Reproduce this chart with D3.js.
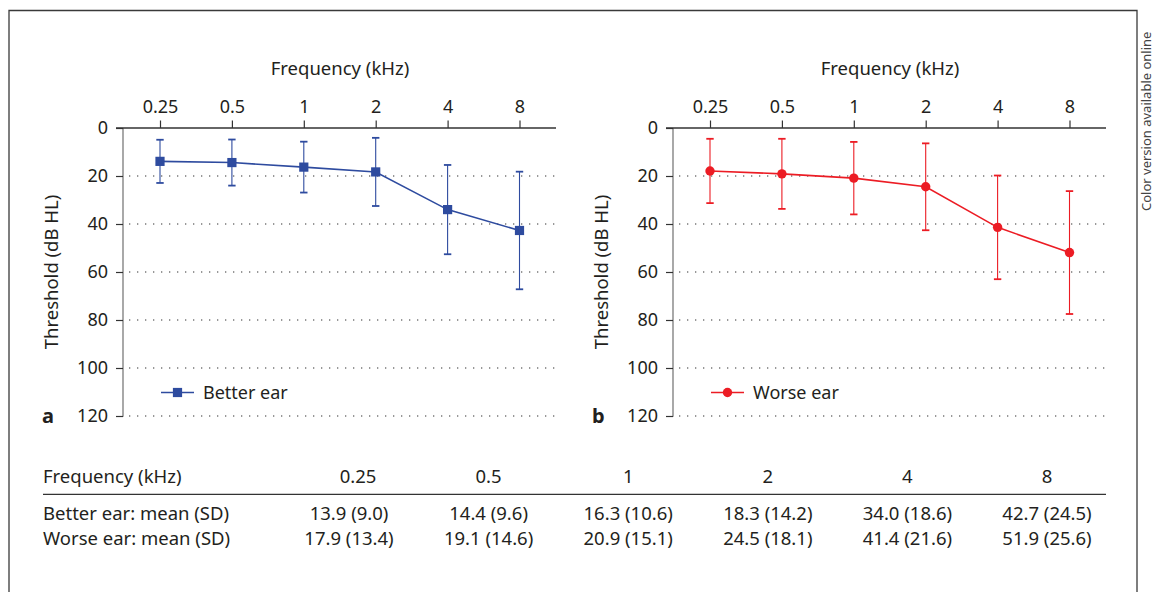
<!DOCTYPE html>
<html lang="en">
<head>
  <meta charset="UTF-8">
  <title>Hearing thresholds, better and worse ear</title>
  <script src="https://d3js.org/d3.v7.min.js"></script>
  <style>
    body { margin: 0; background: #fff; }
    text { font-family: "Noto Sans", "Open Sans", sans-serif; fill: #231f20; }
  </style>
</head>
<body>
  <svg id="chart" width="1154" height="592"></svg>

  <script>
    const freqs = ["0.25", "0.5", "1", "2", "4", "8"]
    const betterMean = [13.9, 14.4, 16.3, 18.3, 34.0, 42.7]
    const betterSD = [9.0, 9.6, 10.6, 14.2, 18.6, 24.5]
    const worseMean = [17.9, 19.1, 20.9, 24.5, 41.4, 51.9]
    const worseSD = [13.4, 14.6, 15.1, 18.1, 21.6, 25.6]
    const yTicks = [0, 20, 40, 60, 80, 100, 120]

    const blue = "#2e4b9f"
    const red = "#ec1c24"

    const svg = d3.select("#chart")

    // outer frame (bottom edge runs off the picture)
    svg.append("path")
      .attr("d", "M9,600V10.5H1137V600")
      .attr("fill", "none")
      .attr("stroke", "#3a3a3a")
      .attr("stroke-width", 1.3)

    svg.append("text")
      .attr("transform", "translate(1150.5,211) rotate(-90)")
      .style("font-size", "13px")
      .style("fill", "#444")
      .text("Color version available online")

    function panel(dx, mean, sd, color, marker, label, letter) {
      const g = svg.append("g").attr("transform", "translate(" + dx + ",0)")

      const x = d3.scalePoint().domain(freqs).range([160, 519.5])
      const y = d3.scaleLinear().domain([0, 120]).range([128, 416])

      // dotted grid
      g.append("g")
        .selectAll("line")
        .data(yTicks.slice(1))
        .join("line")
        .attr("x1", 129).attr("x2", 555)
        .attr("y1", d => y(d)).attr("y2", d => y(d))
        .attr("stroke", "#333")
        .attr("stroke-width", 1.2)
        .attr("stroke-dasharray", "1.3,6.7")

      // left axis
      const yAxis = g.append("g")
        .attr("transform", "translate(123,0)")
        .call(d3.axisLeft(y).tickValues(yTicks).tickSize(7).tickPadding(8))
      yAxis.select(".domain").attr("stroke", "#7a7a7a").attr("stroke-width", 1.3)
        .attr("d", "M0," + y(0) + "V" + (y(120) + 0.7))
      yAxis.selectAll(".tick line").attr("stroke", "#333").attr("stroke-width", 1.2)
      yAxis.selectAll("text").style("font-size", "18px").attr("fill", "#231f20")
        .style("font-family", "'Noto Sans', sans-serif")

      // top axis
      const xAxis = g.append("g")
        .attr("transform", "translate(0,128)")
        .call(d3.axisTop(x).tickSize(7.5).tickPadding(8))
      xAxis.select(".domain").attr("stroke", "#333").attr("stroke-width", 1.3)
        .attr("d", "M116,0H556")
      xAxis.selectAll(".tick line").attr("stroke", "#333").attr("stroke-width", 1.2)
      xAxis.selectAll("text").style("font-size", "18px").attr("fill", "#231f20")
        .style("font-family", "'Noto Sans', sans-serif")

      g.append("text")
        .attr("x", 340).attr("y", 75)
        .attr("text-anchor", "middle")
        .style("font-size", "18.5px")
        .text("Frequency (kHz)")

      g.append("text")
        .attr("transform", "translate(58,272) rotate(-90)")
        .attr("text-anchor", "middle")
        .style("font-size", "18.5px")
        .text("Threshold (dB HL)")

      g.append("text")
        .attr("x", 42).attr("y", 423)
        .style("font-size", "20px")
        .style("font-weight", "bold")
        .text(letter)

      const pts = freqs.map((f, i) => ({ f: f, m: mean[i], s: sd[i] }))

      // error bars
      const bars = g.append("g").attr("stroke", color).attr("stroke-width", 1.1)
      bars.selectAll(".whisker").data(pts).join("line")
        .attr("x1", d => x(d.f)).attr("x2", d => x(d.f))
        .attr("y1", d => y(d.m - d.s)).attr("y2", d => y(d.m + d.s))
      bars.selectAll(".capTop").data(pts).join("line").attr("class", "capTop")
        .attr("x1", d => x(d.f) - 3.7).attr("x2", d => x(d.f) + 3.7)
        .attr("y1", d => y(d.m - d.s)).attr("y2", d => y(d.m - d.s))
        .attr("stroke-width", 1.8)
      bars.selectAll(".capBot").data(pts).join("line").attr("class", "capBot")
        .attr("x1", d => x(d.f) - 3.7).attr("x2", d => x(d.f) + 3.7)
        .attr("y1", d => y(d.m + d.s)).attr("y2", d => y(d.m + d.s))
        .attr("stroke-width", 1.8)

      g.append("path")
        .datum(pts)
        .attr("fill", "none")
        .attr("stroke", color)
        .attr("stroke-width", 1.6)
        .attr("d", d3.line().x(d => x(d.f)).y(d => y(d.m)))

      function drawMarker(sel) {
        if (marker === "square") {
          sel.append("rect")
            .attr("x", -4.6).attr("y", -4.6)
            .attr("width", 9.2).attr("height", 9.2)
            .attr("fill", color)
        } else {
          sel.append("circle").attr("r", 4.7).attr("fill", color)
        }
      }

      g.selectAll(".pt").data(pts).join("g").attr("class", "pt")
        .attr("transform", d => "translate(" + x(d.f) + "," + y(d.m) + ")")
        .call(drawMarker)

      // legend
      const leg = g.append("g").attr("transform", "translate(0,392.5)")
      leg.append("line")
        .attr("x1", 161).attr("x2", 194)
        .attr("stroke", color).attr("stroke-width", 1.6)
      leg.append("g").attr("transform", "translate(177.5,0)").call(drawMarker)
      leg.append("text")
        .attr("x", 203).attr("y", 6.5)
        .style("font-size", "18px")
        .text(label)
    }

    panel(0, betterMean, betterSD, blue, "square", "Better ear", "a")
    panel(550, worseMean, worseSD, red, "circle", "Worse ear", "b")

    // table under the charts
    const rowLabels = ["Frequency (kHz)", "Better ear: mean (SD)", "Worse ear: mean (SD)"]
    const col = d3.scalePoint().domain(freqs).range([349, 1047])
    const fmt = d3.format(".1f")
    const rowY = [483, 519.5, 544.5]

    const table = svg.append("g").style("font-size", "18.5px")

    table.selectAll(".rowLabel").data(rowLabels).join("text")
      .attr("x", 43).attr("y", (d, i) => rowY[i])
      .text(d => d)

    table.selectAll(".head").data(freqs).join("text")
      .attr("x", (d, i) => col(d) + (i === 0 ? 9 : 0))
      .attr("y", rowY[0])
      .attr("text-anchor", "middle")
      .text(d => d)

    table.append("line")
      .attr("x1", 43).attr("x2", 1106)
      .attr("y1", 494.3).attr("y2", 494.3)
      .attr("stroke", "#333").attr("stroke-width", 1.2)

    const rows = [
      freqs.map((f, i) => fmt(betterMean[i]) + " (" + fmt(betterSD[i]) + ")"),
      freqs.map((f, i) => fmt(worseMean[i]) + " (" + fmt(worseSD[i]) + ")")
    ]

    rows.forEach((cells, r) => {
      table.selectAll(".cell" + r).data(cells).join("text")
        .attr("x", (d, i) => col(freqs[i]))
        .attr("y", rowY[r + 1])
        .attr("text-anchor", "middle")
        .text(d => d)
    })
  </script>
</body>
</html>
